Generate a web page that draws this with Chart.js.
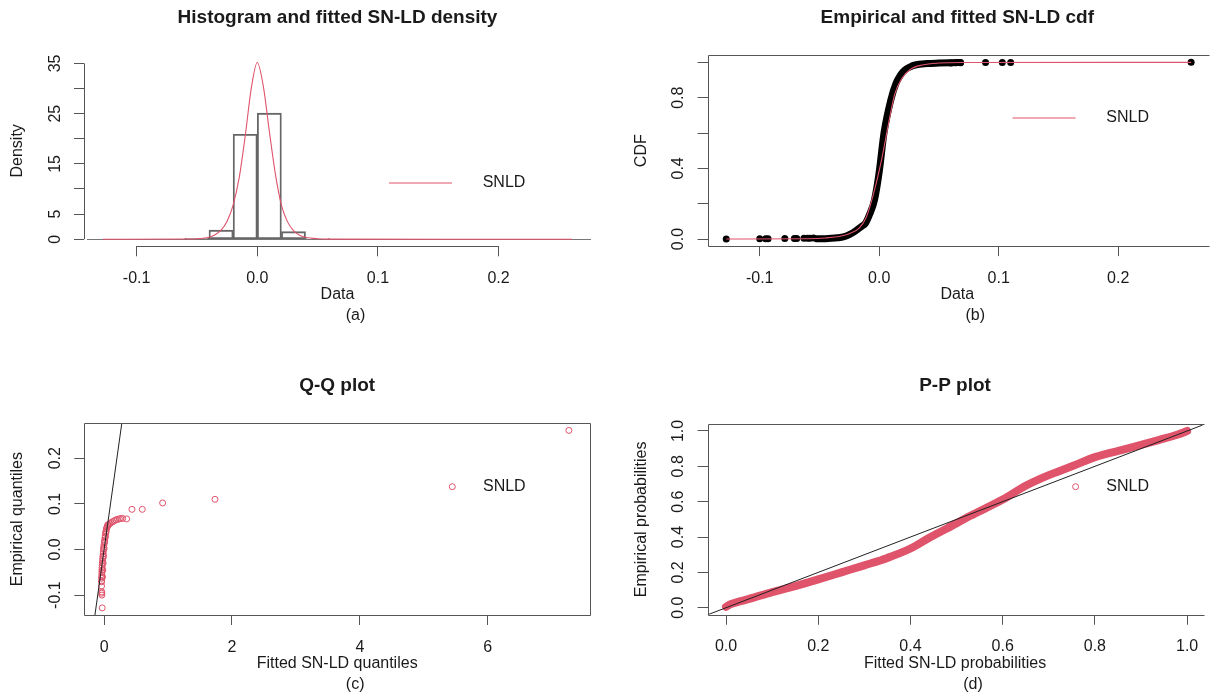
<!DOCTYPE html>
<html>
<head>
<meta charset="utf-8">
<title>SN-LD fit diagnostics</title>
<script src="https://cdn.jsdelivr.net/npm/chart.js@4.4.1/dist/chart.umd.min.js"></script>
<style>
  html, body { margin: 0; padding: 0; background: #fff; }
  #wrap { position: relative; width: 1211px; height: 695px; overflow: hidden; }
  #wrap canvas { position: absolute; }
</style>
</head>
<body>
<div id="wrap">
  <canvas id="pa" width="605" height="347" style="left:0;top:0"></canvas>
  <canvas id="pb" width="606" height="347" style="left:605px;top:0"></canvas>
  <canvas id="pc" width="605" height="348" style="left:0;top:347px"></canvas>
  <canvas id="pd" width="606" height="348" style="left:605px;top:347px"></canvas>
</div>
<script>
// (a) histogram and fitted density
const histMids = [-0.05, -0.03, -0.01, 0.01, 0.03, 0.05]
const histDens = [0.2, 1.8, 20.9, 25.1, 1.5, 0.15]
const densX = [-0.128, -0.06, -0.05, -0.04, -0.035, -0.03, -0.025, -0.02, -0.015, -0.01, -0.005, 0,
  0.005, 0.01, 0.015, 0.02, 0.025, 0.03, 0.035, 0.04, 0.05, 0.06, 0.261]
const densY = [0, 0.05, 0.1, 0.4, 0.9, 1.8, 3.6, 6.8, 12.2, 20.5, 30, 35.2,
  30.5, 21.5, 13, 6.8, 3.5, 1.7, 0.8, 0.4, 0.1, 0.02, 0]
const xTicksA = [-0.1, 0, 0.1, 0.2]
const yTicksA = [0, 5, 10, 15, 20, 25, 30, 35]
const yLabelsA = [0, 5, 15, 25, 35]

// (b) empirical and fitted cdf
const ecdfX = [-0.052, -0.045, -0.04, -0.035, -0.03, -0.025, -0.02, -0.015, -0.0115, -0.008, -0.004, 0,
  0.004, 0.0097, 0.014, 0.018, 0.0216, 0.026, 0.03, 0.04, 0.05, 0.06, 0.068]
const ecdfY = [0.001, 0.002, 0.004, 0.007, 0.012, 0.025, 0.045, 0.07, 0.089, 0.14, 0.22, 0.38,
  0.6, 0.787, 0.88, 0.93, 0.957, 0.975, 0.985, 0.993, 0.996, 0.998, 0.999]
const tailX = [-0.128, -0.1, -0.095, -0.093, -0.079, -0.071, -0.069, -0.063, -0.06, -0.058, -0.055,
  0.06, 0.064, 0.068, 0.089, 0.103, 0.11, 0.261]
const tailY = [0.0005, 0.001, 0.0015, 0.002, 0.0025, 0.003, 0.0035, 0.004, 0.0045, 0.005, 0.0055,
  0.997, 0.998, 0.9985, 0.999, 0.9993, 0.9996, 1]
const fitCdfX = [-0.128, -0.06, -0.045, -0.035, -0.025, -0.017, -0.011, -0.005, 0.002, 0.008, 0.013,
  0.019, 0.026, 0.036, 0.05, 0.07, 0.261]
const fitCdfY = [0, 0.002, 0.006, 0.013, 0.03, 0.06, 0.12, 0.25, 0.45, 0.66, 0.82,
  0.91, 0.96, 0.985, 0.996, 0.999, 1]
const xTicksB = [-0.1, 0, 0.1, 0.2]
const yTicksB = [0, 0.2, 0.4, 0.6, 0.8, 1]
const yLabelsB = [0, 0.4, 0.8]

// (c) Q-Q plot
const qqFitted = [-0.03, -0.035, -0.037, -0.036, -0.04, -0.04, -0.04, -0.038, -0.037, -0.036, -0.035,
  -0.034, -0.032, -0.03, -0.028, -0.025, -0.022, -0.019, -0.016, -0.013, -0.01, -0.006, -0.002,
  0.003, 0.008, 0.013, 0.018, 0.023, 0.028, 0.035, 0.045, 0.06, 0.075, 0.09, 0.11, 0.133, 0.16,
  0.185, 0.21, 0.237, 0.26, 0.29, 0.352, 0.435, 0.597, 0.915, 1.734, 7.27,
  -0.025, -0.02, -0.015, -0.008, 0, 0.01, 0.02, 0.03, 0.04, 0.055]
const qqEmp = [-0.128, -0.1, -0.096, -0.093, -0.08, -0.071, -0.069, -0.063, -0.06, -0.055, -0.05,
  -0.045, -0.04, -0.035, -0.03, -0.025, -0.02, -0.015, -0.01, -0.005, 0, 0.005, 0.01,
  0.015, 0.02, 0.025, 0.03, 0.035, 0.04, 0.045, 0.049, 0.052, 0.055, 0.057, 0.059, 0.061, 0.063,
  0.065, 0.066, 0.067, 0.068, 0.068, 0.067, 0.088, 0.088, 0.102, 0.11, 0.261,
  -0.06, -0.045, -0.03, -0.015, 0.002, 0.017, 0.028, 0.038, 0.046, 0.054]
const qqLine = [-0.144, 0.277]
const xTicksC = [0, 2, 4, 6]
const yTicksC = [-0.1, 0, 0.1, 0.2]

// (d) P-P plot
const ppFitted = [0, 0.01, 0.03, 0.05, 0.1, 0.15, 0.2, 0.25, 0.3, 0.35, 0.4, 0.44, 0.48, 0.53,
  0.6, 0.65, 0.7, 0.75, 0.8, 0.87, 0.94, 0.98, 1]
const ppEmp = [0.005, 0.02, 0.036, 0.05, 0.088, 0.122, 0.16, 0.2, 0.24, 0.282, 0.335, 0.395, 0.45, 0.52,
  0.612, 0.69, 0.75, 0.8, 0.852, 0.9, 0.95, 0.98, 1]
const ppLine = [-0.04, 1.04]
const xTicksD = [0, 0.2, 0.4, 0.6, 0.8, 1]
const yTicksD = [0, 0.2, 0.4, 0.6, 0.8, 1]

const FONT = '"Liberation Sans", Arial, sans-serif'
const INK = '#1a1a1a'
const AXIS = '#555'
const RED = '#DF536B'

const pts = (xs, ys) => xs.map((x, i) => ({ x, y: ys[i] }))
const one = v => v.toFixed(1)

function xScale(min, max, ticks, title, fmt) {
  return {
    type: 'linear', min, max, offset: false,
    afterBuildTicks: s => { s.ticks = ticks.map(v => ({ value: v })) },
    afterFit: s => { s.height = 56.5 },
    border: { display: false },
    grid: { drawOnChartArea: false, offset: false, tickLength: 10, tickColor: AXIS },
    ticks: { autoSkip: false, maxRotation: 0, padding: 12.5, color: INK, font: { family: FONT, size: 16 }, callback: fmt },
    title: { display: true, text: title, color: INK, padding: 0, font: { family: FONT, size: 16, lineHeight: 1 } }
  }
}

function yScale(min, max, ticks, labels, title, width, tickPad, titlePad, fmt) {
  return {
    type: 'linear', min, max,
    afterBuildTicks: s => { s.ticks = ticks.map(v => ({ value: v })) },
    afterFit: s => { s.width = width },
    border: { display: false },
    grid: { drawOnChartArea: false, tickLength: 10, tickColor: AXIS },
    ticks: {
      autoSkip: false, minRotation: 90, maxRotation: 90, crossAlign: 'center', padding: tickPad,
      color: INK, font: { family: FONT, size: 16 },
      callback: v => labels.includes(v) ? fmt(v) : ''
    },
    title: { display: true, text: title, color: INK, padding: { top: titlePad, bottom: 0 }, font: { family: FONT, size: 16, lineHeight: 1 } }
  }
}

// frame, caption and legend, drawn the way R's base graphics lays them out
function decor(o) {
  return {
    id: 'decor',
    beforeDatasetsDraw(chart) {
      if (!o.baseline) return
      const { ctx, chartArea: a, scales: { y } } = chart
      const py = Math.round(y.getPixelForValue(0)) + 0.5
      ctx.save()
      ctx.strokeStyle = '#777'
      ctx.lineWidth = 1
      ctx.beginPath(); ctx.moveTo(a.left + 3, py); ctx.lineTo(a.right, py); ctx.stroke()
      ctx.restore()
    },
    afterDraw(chart) {
      const { ctx, chartArea: a, scales: { x, y } } = chart
      const L = Math.round(a.left) + 0.5, T = Math.round(a.top) + 0.5
      const B = Math.round(a.bottom) + 0.5, R = Math.round(a.right) + 0.5
      ctx.save()
      ctx.strokeStyle = AXIS
      ctx.lineWidth = 1
      ctx.beginPath()
      if (o.box) {
        ctx.moveTo(o.openRight ? R + 2 : R, T); ctx.lineTo(L, T); ctx.lineTo(L, B); ctx.lineTo(o.openRight ? R + 2 : R, B)
        if (!o.openRight) ctx.lineTo(R, T)
      } else {
        const xt = o.xTicks, yt = o.yTicks
        ctx.moveTo(x.getPixelForValue(xt[0]), B); ctx.lineTo(x.getPixelForValue(xt[xt.length - 1]), B)
        ctx.moveTo(L, y.getPixelForValue(yt[0])); ctx.lineTo(L, y.getPixelForValue(yt[yt.length - 1]))
      }
      ctx.stroke()

      ctx.fillStyle = INK
      ctx.font = '16px ' + FONT
      ctx.textAlign = 'center'
      ctx.textBaseline = 'middle'
      ctx.fillText(o.caption, (a.left + a.right) / 2 + 18, a.bottom + 69.5)

      const ly = a.top + o.legendY
      ctx.fillText('SNLD', a.left + 420, ly)
      ctx.strokeStyle = RED
      ctx.beginPath()
      if (o.legendLine) {
        ctx.moveTo(a.left + 305, ly); ctx.lineTo(a.left + 368, ly)
      } else {
        ctx.arc(a.left + 368, ly, 3, 0, Math.PI * 2)
      }
      ctx.stroke()
      ctx.restore()
    }
  }
}

function titleOpt(text, top, bottom) {
  return {
    display: true, text, fullSize: false, color: INK,
    font: { family: FONT, size: 19, weight: 'bold', lineHeight: 1 },
    padding: { top, bottom }
  }
}

const common = {
  responsive: false,
  animation: false,
  events: [],
  devicePixelRatio: 1
}

// (a)
new Chart(document.getElementById('pa'), {
  type: 'scatter',
  data: {
    datasets: [
      { label: 'SNLD', data: pts(densX, densY), showLine: true, borderColor: RED, borderWidth: 1.1,
        pointRadius: 0, cubicInterpolationMode: 'monotone' },
      { type: 'bar', label: 'hist', data: pts(histMids, histDens), backgroundColor: 'rgba(0,0,0,0)',
        borderColor: '#666', borderWidth: 1.2, borderSkipped: false, barPercentage: 1, categoryPercentage: 1 }
    ]
  },
  options: {
    ...common,
    layout: { padding: { left: 0, right: 14, top: 0, bottom: 44.2 } },
    plugins: { legend: { display: false }, tooltip: { enabled: false },
      title: titleOpt('Histogram and fitted SN-LD density', 8.5, 27.9) },
    scales: {
      x: xScale(-0.1436, 0.2766, xTicksA, 'Data', one),
      y: yScale(-1.41, 36.6, yTicksA, yLabelsA, 'Density', 84, 9.7, 9.8, v => String(v))
    }
  },
  plugins: [decor({ baseline: true, xTicks: xTicksA, yTicks: yTicksA, caption: '(a)', legendY: 127.6, legendLine: true })]
})

// (b)
new Chart(document.getElementById('pb'), {
  type: 'scatter',
  data: {
    datasets: [
      { label: 'SNLD', data: pts(fitCdfX, fitCdfY), showLine: true, borderColor: RED, borderWidth: 1.1,
        pointRadius: 0, cubicInterpolationMode: 'monotone' },
      { label: 'ecdf', data: pts(ecdfX, ecdfY), showLine: true, borderColor: '#000', borderWidth: 7,
        borderCapStyle: 'round', pointRadius: 0, cubicInterpolationMode: 'monotone' },
      { label: 'ecdf tails', data: pts(tailX, tailY), pointRadius: 3.5, backgroundColor: '#000', borderWidth: 0 }
    ]
  },
  options: {
    ...common,
    layout: { padding: { left: 0, right: 0, top: 0, bottom: 44.4 } },
    plugins: { legend: { display: false }, tooltip: { enabled: false },
      title: titleOpt('Empirical and fitted SN-LD cdf', 8.5, 27.8) },
    scales: {
      x: xScale(-0.1436, 0.2743, xTicksB, 'Data', one),
      y: yScale(-0.04, 1.04, yTicksB, yLabelsB, 'CDF', 102.6, 7.5, 29, one)
    }
  },
  plugins: [decor({ box: true, openRight: true, caption: '(b)', legendY: 62.7, legendLine: true })]
})

// (c)
new Chart(document.getElementById('pc'), {
  type: 'scatter',
  data: {
    datasets: [
      { label: 'y = x', data: pts(qqLine, qqLine), showLine: true, borderColor: '#222', borderWidth: 1, pointRadius: 0 },
      { label: 'SNLD', data: pts(qqFitted, qqEmp), pointRadius: 3, pointStyle: 'circle',
        backgroundColor: 'rgba(0,0,0,0)', borderColor: RED, borderWidth: 1 }
    ]
  },
  options: {
    ...common,
    layout: { padding: { left: 0, right: 15, top: 0, bottom: 23.5 } },
    plugins: { legend: { display: false }, tooltip: { enabled: false },
      title: titleOpt('Q-Q plot', 29.5, 27.8) },
    scales: {
      x: xScale(-0.31, 7.6, xTicksC, 'Fitted SN-LD quantiles', v => String(v)),
      y: yScale(-0.1436, 0.2766, yTicksC, yTicksC, 'Empirical quantiles', 84.3, 4.8, 9.8, one)
    }
  },
  plugins: [decor({ box: true, caption: '(c)', legendY: 63.4 })]
})

// (d)
new Chart(document.getElementById('pd'), {
  type: 'scatter',
  data: {
    datasets: [
      { label: 'y = x', data: pts(ppLine, ppLine), showLine: true, borderColor: '#222', borderWidth: 1, pointRadius: 0 },
      { label: 'SNLD', data: pts(ppFitted, ppEmp), showLine: true, borderColor: RED, borderWidth: 8,
        borderCapStyle: 'round', pointRadius: 0, cubicInterpolationMode: 'monotone' }
    ]
  },
  options: {
    ...common,
    layout: { padding: { left: 0, right: 0, top: 0, bottom: 23.7 } },
    plugins: { legend: { display: false }, tooltip: { enabled: false },
      title: titleOpt('P-P plot', 29.5, 28.4) },
    scales: {
      x: xScale(-0.04, 1.0333, xTicksD, 'Fitted SN-LD probabilities', one),
      y: yScale(-0.04, 1.04, yTicksD, yTicksD, 'Empirical probabilities', 102.6, 7.5, 29, one)
    }
  },
  plugins: [decor({ box: true, openRight: true, caption: '(d)', legendY: 62.8 })]
})
</script>
</body>
</html>
